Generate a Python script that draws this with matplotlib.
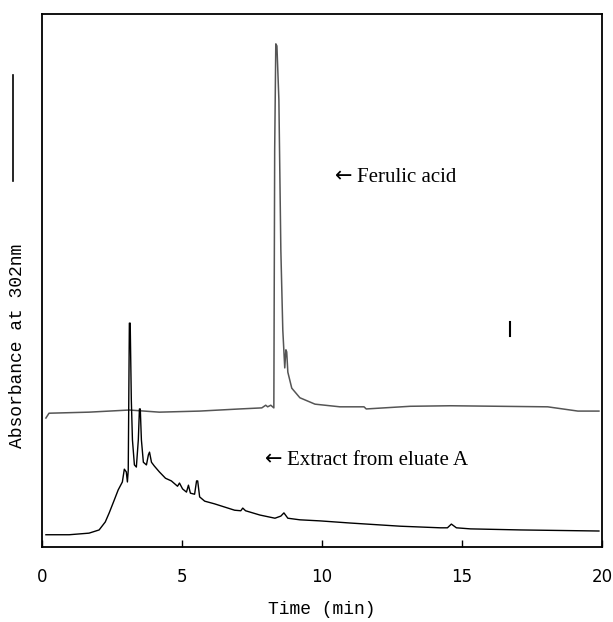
import matplotlib
matplotlib.use("Agg")
import matplotlib.pyplot as plt
from matplotlib.lines import Line2D

# HPLC traces, absorbance in arbitrary units (0-100 = plot height)
ferulic_t = [0.14, 0.25, 1.68, 3.12, 4.19, 5.63, 7.06, 7.85, 7.99, 8.06, 8.17, 8.28,
             8.31, 8.35, 8.39, 8.46, 8.53, 8.60, 8.67, 8.71, 8.74, 8.78, 8.92, 9.21,
             9.75, 10.64, 11.50, 11.58, 13.15, 14.59, 18.06, 19.14, 19.89]
ferulic_a = [24.2, 25.1, 25.3, 25.7, 25.3, 25.5, 25.9, 26.1, 26.6, 26.3, 26.6, 26.1,
             74.5, 94.4, 94.0, 83.9, 55.7, 40.7, 33.6, 37.0, 36.6, 32.8, 29.8, 28.0,
             26.8, 26.3, 26.3, 25.9, 26.4, 26.5, 26.3, 25.5, 25.5]

extract_t = [0.14, 0.97, 1.68, 2.04, 2.26, 2.40, 2.58, 2.72, 2.87, 2.94, 3.01, 3.05,
             3.08, 3.12, 3.15, 3.19, 3.23, 3.30, 3.37, 3.44, 3.48, 3.51, 3.55, 3.62,
             3.73, 3.80, 3.84, 3.91, 4.01, 4.19, 4.41, 4.62, 4.84, 4.91, 5.02, 5.16,
             5.23, 5.30, 5.45, 5.52, 5.56, 5.63, 5.81, 6.16, 6.52, 6.88, 7.10, 7.17,
             7.27, 7.78, 8.32, 8.53, 8.64, 8.78, 9.21, 9.93, 11.00, 12.80, 14.23, 14.48,
             14.62, 14.80, 15.30, 17.10, 19.89]
extract_a = [2.3, 2.3, 2.6, 3.2, 4.7, 6.4, 8.8, 10.7, 12.2, 14.6, 14.1, 12.2,
             14.4, 42.0, 42.0, 27.6, 20.1, 15.4, 15.0, 20.1, 25.9, 25.9, 20.1, 15.9,
             15.4, 17.3, 17.8, 15.9, 15.2, 14.1, 12.9, 12.4, 11.4, 12.0, 10.9, 10.3,
             11.6, 10.1, 9.9, 12.4, 12.4, 9.4, 8.6, 8.1, 7.5, 6.9, 6.8, 7.3,
             6.8, 6.0, 5.4, 5.8, 6.4, 5.4, 5.1, 4.9, 4.5, 3.9, 3.6, 3.6,
             4.3, 3.6, 3.4, 3.2, 3.0]

x_ticks = [0, 5, 10, 15, 20]

W, H = 613, 622
fig = plt.figure(figsize=(W / 100, H / 100), dpi=100)
ax = fig.add_axes([42 / W, 1 - 547 / H, 560 / W, 533 / H])

ax.plot(ferulic_t, ferulic_a, color="#555555", lw=1.1)
ax.plot(extract_t, extract_a, color="black", lw=1.0)

ax.set_xlim(0, 20)
ax.set_ylim(0, 100)
ax.set_xticks(x_ticks)
ax.set_xticklabels([str(t) for t in x_ticks], fontsize=12, family="DejaVu Sans")
ax.tick_params(axis="x", direction="in", length=5, width=1, pad=15)
ax.set_yticks([])
for s in ax.spines.values():
    s.set_linewidth(1.3)

# labels with arrows
ax.text(10.47, 69.6, "\u2190", fontsize=15, family="DejaVu Sans", va="center", ha="left")
ax.text(11.25, 69.4, "Ferulic acid", fontsize=15, family="Liberation Serif",
        va="center", ha="left")
ax.text(7.96, 16.5, "\u2190", fontsize=15, family="DejaVu Sans", va="center", ha="left")
ax.text(8.74, 16.3, "Extract from eluate A", fontsize=15, family="Liberation Serif",
        va="center", ha="left")

fig.text(322 / W, 1 - 610 / H, "Time (min)", fontsize=13, family="Liberation Mono",
         ha="center", va="center")
fig.text(18 / W, 1 - 346 / H, "Absorbance at 302nm", fontsize=13, family="Liberation Mono",
         ha="center", va="center", rotation=90)

# scale bar and small marker
fig.add_artist(Line2D([13 / W, 13 / W], [1 - 75 / H, 1 - 181 / H], color="black", lw=1.2))
fig.add_artist(Line2D([510 / W, 510 / W], [1 - 322 / H, 1 - 336 / H], color="black", lw=1.5))

fig.savefig("out.png", dpi=100)
